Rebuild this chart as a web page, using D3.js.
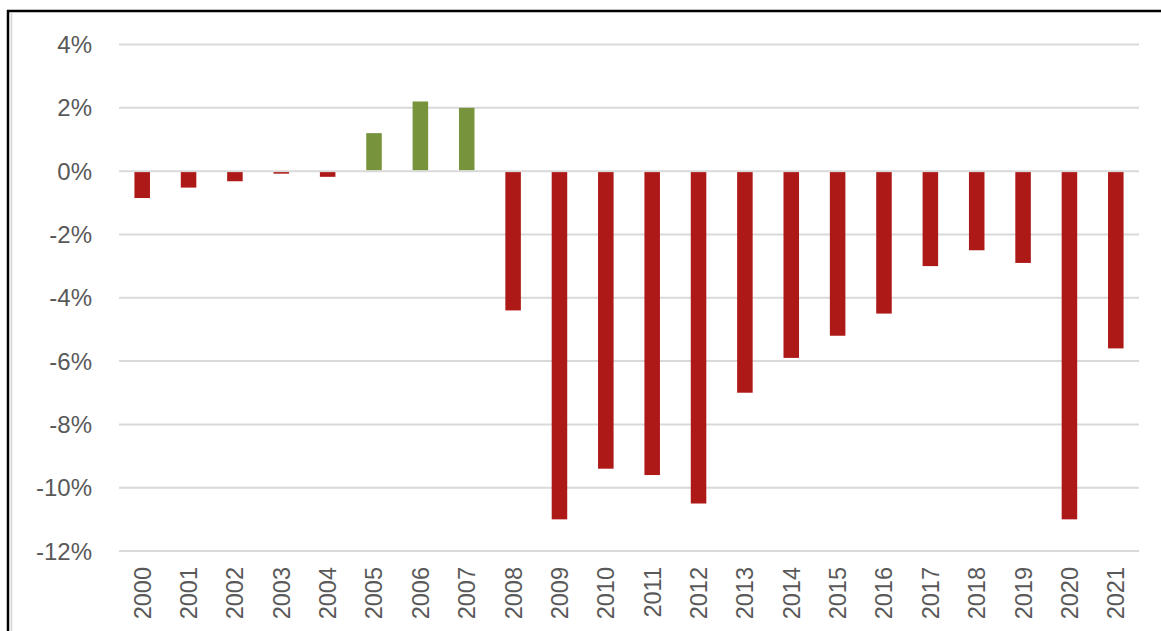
<!DOCTYPE html>
<html>
<head>
<meta charset="utf-8">
<script src="https://cdn.jsdelivr.net/npm/d3@7"></script>
<style>
    body { margin: 0; background: #fff; }
    svg { display: block; }
</style>
</head>
<body>
<svg id="chart" width="1161" height="631"></svg>
<script>
// annual values, percent
const years = ["2000", "2001", "2002", "2003", "2004", "2005", "2006", "2007", "2008", "2009", "2010",
    "2011", "2012", "2013", "2014", "2015", "2016", "2017", "2018", "2019", "2020", "2021"];
const values = [-0.85, -0.52, -0.32, -0.08, -0.18, 1.2, 2.2, 2.0, -4.4, -11.0, -9.4,
    -9.6, -10.5, -7.0, -5.9, -5.2, -4.5, -3.0, -2.5, -2.9, -11.0, -5.6];
const yTicks = [4, 2, 0, -2, -4, -6, -8, -10, -12];

const red = "#ad1916";
const green = "#77933c";

const svg = d3.select("#chart");

// frame around the chart
svg.append("line").attr("x1", 7).attr("x2", 1161).attr("y1", 11).attr("y2", 11)
    .attr("stroke", "#000").attr("stroke-width", 2.5);
svg.append("line").attr("x1", 8).attr("x2", 8).attr("y1", 10).attr("y2", 631)
    .attr("stroke", "#000").attr("stroke-width", 2.5);
svg.append("line").attr("x1", 11.5).attr("x2", 11.5).attr("y1", 13).attr("y2", 631)
    .attr("stroke", "#d4d4d4").attr("stroke-width", 1.5);

const x = d3.scaleBand()
    .domain(years)
    .range([119, 1139])
    .paddingInner(0.665)
    .paddingOuter(0.333);

const y = d3.scaleLinear()
    .domain([-12, 4])
    .range([551, 44.5]);

// gridlines
svg.append("g")
    .selectAll("line")
    .data(yTicks)
    .enter()
    .append("line")
    .attr("x1", 119)
    .attr("x2", 1139)
    .attr("y1", d => y(d))
    .attr("y2", d => y(d))
    .attr("stroke", "#d9d9d9")
    .attr("stroke-width", 2);

// y labels
svg.append("g")
    .selectAll("text")
    .data(yTicks)
    .enter()
    .append("text")
    .attr("x", 92)
    .attr("y", d => y(d))
    .attr("dy", "0.36em")
    .attr("text-anchor", "end")
    .style("font", "24px 'Liberation Sans', sans-serif")
    .style("fill", "#595959")
    .text(d => d + "%");

// bars
svg.append("g")
    .selectAll("rect")
    .data(values)
    .enter()
    .append("rect")
    .attr("x", (d, i) => x(years[i]))
    .attr("width", x.bandwidth())
    .attr("y", d => d >= 0 ? y(d) : y(0) + 1)
    .attr("height", d => Math.abs(y(d) - y(0)) - 1)
    .attr("fill", d => d >= 0 ? green : red);

// x labels, rotated
svg.append("g")
    .selectAll("text")
    .data(years)
    .enter()
    .append("text")
    .attr("transform", d => `translate(${x(d) + x.bandwidth() / 2},567) rotate(-90)`)
    .attr("dy", "0.36em")
    .attr("text-anchor", "end")
    .style("font", "23.5px 'Liberation Sans', sans-serif")
    .style("fill", "#595959")
    .text(d => d);
</script>
</body>
</html>
